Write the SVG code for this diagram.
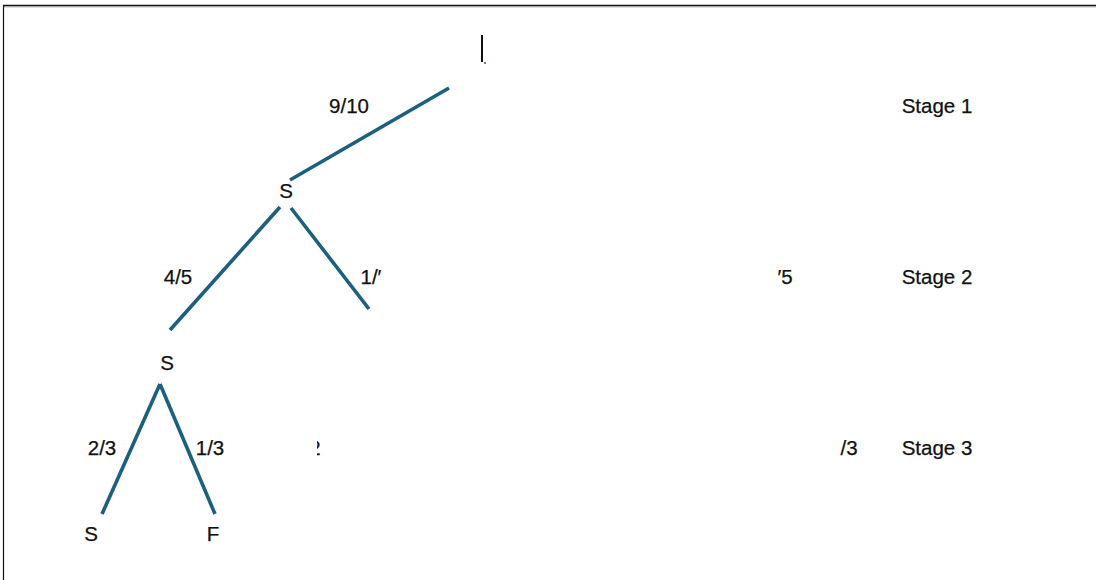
<svg xmlns="http://www.w3.org/2000/svg" width="1096" height="580" viewBox="0 0 1096 580">
<style>
.t{font-family:"Liberation Sans",Arial,sans-serif;font-size:20.5px;fill:#111;text-anchor:middle;dominant-baseline:central;stroke:#111;stroke-width:0.25}
.e{stroke:#1c5f7e;stroke-width:3.6;stroke-linecap:butt;fill:none}
</style>
<defs>
<clipPath id="c1"><rect x="317" y="435" width="8" height="25"/></clipPath>
</defs>
<rect width="1096" height="580" fill="#fff"/>
<g id="frame">
<line x1="3" y1="5.5" x2="1096" y2="5.5" stroke="#111" stroke-width="1.5"/>
<line x1="3" y1="6.8" x2="1096" y2="6.8" stroke="#999" stroke-width="1"/>
<line x1="3.5" y1="5" x2="3.5" y2="580" stroke="#111" stroke-width="1.2"/>
</g>
<g id="connectors">
<line class="e" x1="449" y1="88" x2="290" y2="180"/>
<line class="e" x1="280" y1="207" x2="170" y2="330"/>
<line class="e" x1="291" y1="208" x2="369" y2="309"/>
<line class="e" x1="160" y1="384" x2="102" y2="514"/>
<line class="e" x1="160" y1="384" x2="215" y2="514"/>
</g>
<g id="root">
<line x1="482" y1="35" x2="482" y2="62" stroke="#111" stroke-width="2"/>
<circle cx="485" cy="63" r="1" fill="#1c5f7e"/>
</g>
<g id="n1"><text class="t" x="286" y="190">S</text></g>
<g id="n2"><text class="t" x="167" y="362">S</text></g>
<g id="n3"><text class="t" x="91" y="533">S</text></g>
<g id="n4"><text class="t" x="213" y="533">F</text></g>
<g id="labels">
<text class="t" x="349" y="105">9/10</text>
<text class="t" x="178" y="276">4/5</text>
<text class="t" x="371" y="276">1/′</text>
<text class="t" x="785" y="276">′5</text>
<text class="t" x="102" y="447">2/3</text>
<text class="t" x="210" y="447">1/3</text>
<text class="t" x="849" y="447">/3</text>
<text class="t" x="315" y="447" clip-path="url(#c1)">2</text>
<text class="t" x="937" y="105">Stage 1</text>
<text class="t" x="937" y="276">Stage 2</text>
<text class="t" x="937" y="447">Stage 3</text>
</g>
</svg>
